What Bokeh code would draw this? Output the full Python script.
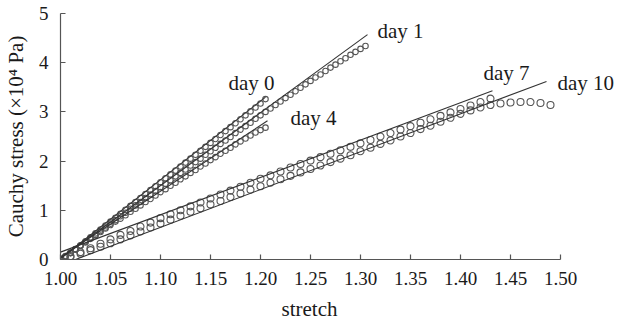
from bokeh.plotting import figure
from bokeh.models import Label, FixedTicker, Range1d, Title
from bokeh.embed import file_html
from bokeh.resources import INLINE

# ---------------- data ----------------
stretch_d0 = [1.000, 1.005, 1.010, 1.015, 1.020, 1.025, 1.030, 1.035, 1.040, 1.045,
              1.050, 1.055, 1.060, 1.065, 1.070, 1.075, 1.080, 1.085, 1.090, 1.095,
              1.100, 1.105, 1.110, 1.115, 1.120, 1.125, 1.130, 1.135, 1.140, 1.145,
              1.150, 1.155, 1.160, 1.165, 1.170, 1.175, 1.180, 1.185, 1.190, 1.195,
              1.200, 1.205]
stress_d0 = [0.00, 0.06, 0.13, 0.21, 0.29, 0.37, 0.45, 0.53, 0.61, 0.69,
             0.77, 0.85, 0.93, 1.01, 1.09, 1.17, 1.25, 1.33, 1.41, 1.49,
             1.57, 1.65, 1.73, 1.81, 1.89, 1.97, 2.05, 2.13, 2.21, 2.29,
             2.37, 2.45, 2.53, 2.61, 2.69, 2.77, 2.85, 2.93, 3.01, 3.09,
             3.17, 3.26]

stretch_d1 = [1.000, 1.005, 1.010, 1.015, 1.020, 1.025, 1.030, 1.035, 1.040, 1.045,
              1.050, 1.055, 1.060, 1.065, 1.070, 1.075, 1.080, 1.085, 1.090, 1.095,
              1.100, 1.105, 1.110, 1.115, 1.120, 1.125, 1.130, 1.135, 1.140, 1.145,
              1.150, 1.155, 1.160, 1.165, 1.170, 1.175, 1.180, 1.185, 1.190, 1.195,
              1.200, 1.205, 1.210, 1.215, 1.220, 1.225, 1.230, 1.235, 1.240, 1.245,
              1.250, 1.255, 1.260, 1.265, 1.270, 1.275, 1.280, 1.285, 1.290, 1.295,
              1.300, 1.305]
stress_d1 = [0.00, 0.06, 0.13, 0.20, 0.28, 0.35, 0.43, 0.50, 0.58, 0.65,
             0.73, 0.80, 0.88, 0.95, 1.03, 1.10, 1.17, 1.25, 1.32, 1.39,
             1.47, 1.54, 1.61, 1.69, 1.76, 1.83, 1.91, 1.98, 2.05, 2.13,
             2.20, 2.27, 2.35, 2.42, 2.49, 2.57, 2.64, 2.71, 2.78, 2.86,
             2.93, 3.00, 3.07, 3.14, 3.21, 3.28, 3.35, 3.42, 3.49, 3.56,
             3.63, 3.70, 3.76, 3.83, 3.90, 3.96, 4.03, 4.09, 4.16, 4.22,
             4.28, 4.34]

stretch_d4 = [1.000, 1.005, 1.010, 1.015, 1.020, 1.025, 1.030, 1.035, 1.040, 1.045,
              1.050, 1.055, 1.060, 1.065, 1.070, 1.075, 1.080, 1.085, 1.090, 1.095,
              1.100, 1.105, 1.110, 1.115, 1.120, 1.125, 1.130, 1.135, 1.140, 1.145,
              1.150, 1.155, 1.160, 1.165, 1.170, 1.175, 1.180, 1.185, 1.190, 1.195,
              1.200, 1.205]
stress_d4 = [0.00, 0.07, 0.14, 0.21, 0.28, 0.35, 0.42, 0.49, 0.56, 0.63,
             0.70, 0.77, 0.83, 0.90, 0.97, 1.03, 1.10, 1.17, 1.23, 1.30,
             1.37, 1.43, 1.50, 1.56, 1.63, 1.69, 1.76, 1.82, 1.89, 1.95,
             2.02, 2.08, 2.15, 2.21, 2.27, 2.34, 2.40, 2.46, 2.52, 2.58,
             2.63, 2.68]

stretch_d7 = [1.00, 1.01, 1.02, 1.03, 1.04, 1.05, 1.06, 1.07, 1.08, 1.09,
              1.10, 1.11, 1.12, 1.13, 1.14, 1.15, 1.16, 1.17, 1.18, 1.19,
              1.20, 1.21, 1.22, 1.23, 1.24, 1.25, 1.26, 1.27, 1.28, 1.29,
              1.30, 1.31, 1.32, 1.33, 1.34, 1.35, 1.36, 1.37, 1.38, 1.39,
              1.40, 1.41, 1.42, 1.43]
stress_d7 = [0.00, 0.07, 0.15, 0.23, 0.32, 0.41, 0.50, 0.58, 0.67, 0.75,
             0.84, 0.92, 1.00, 1.08, 1.16, 1.24, 1.32, 1.40, 1.48, 1.56,
             1.64, 1.71, 1.79, 1.87, 1.94, 2.01, 2.08, 2.15, 2.22, 2.29,
             2.36, 2.43, 2.50, 2.57, 2.64, 2.71, 2.78, 2.85, 2.92, 2.99,
             3.06, 3.13, 3.20, 3.27]

stretch_d10 = [1.00, 1.01, 1.02, 1.03, 1.04, 1.05, 1.06, 1.07, 1.08, 1.09,
               1.10, 1.11, 1.12, 1.13, 1.14, 1.15, 1.16, 1.17, 1.18, 1.19,
               1.20, 1.21, 1.22, 1.23, 1.24, 1.25, 1.26, 1.27, 1.28, 1.29,
               1.30, 1.31, 1.32, 1.33, 1.34, 1.35, 1.36, 1.37, 1.38, 1.39,
               1.40, 1.41, 1.42, 1.43, 1.44, 1.45, 1.46, 1.47, 1.48, 1.49]
stress_d10 = [0.00, 0.05, 0.12, 0.19, 0.26, 0.33, 0.41, 0.49, 0.57, 0.65,
              0.73, 0.81, 0.89, 0.97, 1.04, 1.12, 1.19, 1.27, 1.34, 1.42,
              1.49, 1.56, 1.63, 1.70, 1.77, 1.84, 1.91, 1.98, 2.05, 2.12,
              2.20, 2.27, 2.35, 2.42, 2.50, 2.57, 2.65, 2.72, 2.80, 2.88,
              2.96, 3.03, 3.09, 3.14, 3.17, 3.19, 3.20, 3.20, 3.18, 3.14]

# linear fits: start and end points (stretch, stress)
fit_names = ["day 0", "day 1", "day 4", "day 7", "day 10"]
fit_x0 = [1.000, 1.000, 1.000, 1.000, 1.015]
fit_y0 = [0.02, 0.02, 0.05, 0.15, 0.00]
fit_x1 = [1.205, 1.307, 1.207, 1.432, 1.486]
fit_y1 = [3.30, 4.57, 2.82, 3.43, 3.62]

# label anchor points (left edge, vertical middle)
label_x = [1.168, 1.317, 1.230, 1.423, 1.497]
label_y = [3.59, 4.64, 2.88, 3.79, 3.59]

x_ticks = [1.00, 1.05, 1.10, 1.15, 1.20, 1.25, 1.30, 1.35, 1.40, 1.45, 1.50]
x_tick_labels = ["1.00", "1.05", "1.10", "1.15", "1.20", "1.25", "1.30", "1.35", "1.40", "1.45", "1.50"]
y_ticks = [0, 1, 2, 3, 4, 5]

FONT = "Liberation Serif"
FS = "19px"
FS_LABEL = "21px"
TXT = "#1a1a1a"
AX = "#555555"

p = figure(frame_width=556, frame_height=246, min_border_left=54, min_border_right=0,
           min_border_top=13, min_border_bottom=69,
           x_range=Range1d(1.0, 1.556), y_range=Range1d(0, 5),
           output_backend="svg", toolbar_location=None)
p.outline_line_color = None
p.grid.grid_line_color = None
p.background_fill_color = "white"
p.border_fill_color = "white"

series = [(stretch_d0, stress_d0, 5.5), (stretch_d1, stress_d1, 5.5), (stretch_d4, stress_d4, 5.5),
          (stretch_d7, stress_d7, 7), (stretch_d10, stress_d10, 7)]
for xs, ys, sz in series:
    p.scatter(xs, ys, marker="circle", size=sz, fill_color=None,
              line_color="#555555", line_width=1.1)

for i in range(len(fit_names)):
    p.line([fit_x0[i], fit_x1[i]], [fit_y0[i], fit_y1[i]], line_color="#333333", line_width=1.1)
    p.add_layout(Label(x=label_x[i], y=label_y[i], text=fit_names[i], text_font=FONT,
                       text_font_size=FS_LABEL, text_color=TXT, text_align="left",
                       text_baseline="middle"))

p.xaxis.ticker = FixedTicker(ticks=x_ticks)
p.xaxis.major_label_overrides = {t: l for t, l in zip(x_ticks, x_tick_labels)}
p.xaxis.bounds = (1.0, 1.5)
p.yaxis.ticker = FixedTicker(ticks=y_ticks)
p.yaxis.bounds = (0, 5)
p.xaxis.minor_tick_line_color = None
p.yaxis.minor_tick_line_color = None
for ax in (p.xaxis, p.yaxis):
    ax.axis_line_color = AX
    ax.axis_line_width = 1.2
    ax.major_tick_line_color = AX
    ax.major_tick_line_width = 1.2
    ax.major_tick_in = 5
    ax.major_tick_out = 0
    ax.major_label_text_font = FONT
    ax.major_label_text_font_size = FS
    ax.major_label_text_color = TXT
    ax.axis_label_text_font = FONT
    ax.axis_label_text_font_size = FS_LABEL
    ax.axis_label_text_font_style = "normal"
    ax.axis_label_text_color = TXT

p.yaxis.axis_label = "Cauchy stress (\u00d710\u2074 Pa)"
p.xaxis.major_label_standoff = 12
p.yaxis.major_label_standoff = 12
p.yaxis.axis_label_standoff = 8

# x-axis title, centred under the 1.00–1.50 axis line (not the wider frame)
xtitle = Title(text="stretch", align="left", offset=221, standoff=14,
               text_font=FONT, text_font_size=FS_LABEL, text_font_style="normal",
               text_color=TXT)
p.add_layout(xtitle, "below")

open("out.html", "w").write(file_html(p, INLINE))
